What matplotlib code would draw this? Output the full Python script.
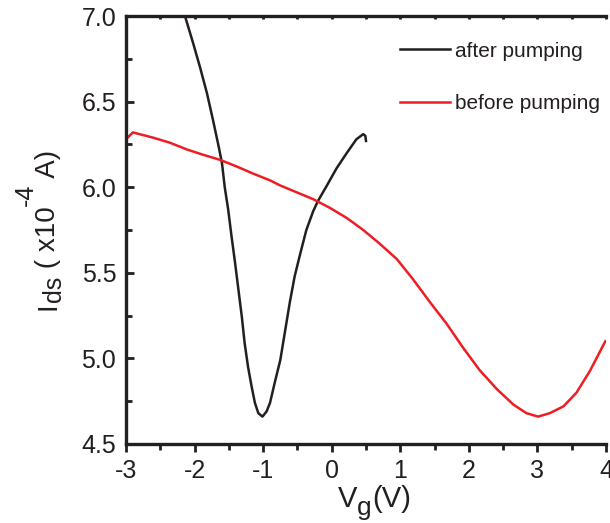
import matplotlib
matplotlib.use("Agg")
import matplotlib.pyplot as plt
from matplotlib.ticker import MultipleLocator, FormatStrFormatter
from matplotlib.transforms import IdentityTransform

plt.rcParams['font.family'] = ['Liberation Sans', 'DejaVu Sans']
plt.rcParams['axes.unicode_minus'] = False

# after pumping (black)
after_x = [-2.14, -2.02, -1.92, -1.82, -1.73, -1.65, -1.60, -1.56, -1.51, -1.46,
           -1.41, -1.36, -1.31, -1.27, -1.22, -1.17, -1.12, -1.07, -1.01, -0.95,
           -0.90, -0.83, -0.75, -0.68, -0.61, -0.54, -0.46, -0.37, -0.27, -0.20,
           -0.07, 0.07, 0.22, 0.36, 0.46, 0.49, 0.50]
after_y = [7.00, 6.84, 6.70, 6.55, 6.39, 6.24, 6.14, 6.00, 5.87, 5.71,
           5.56, 5.40, 5.24, 5.09, 4.95, 4.84, 4.74, 4.68, 4.66, 4.69,
           4.74, 4.86, 4.99, 5.16, 5.33, 5.48, 5.61, 5.75, 5.86, 5.92,
           6.01, 6.11, 6.20, 6.28, 6.31, 6.30, 6.27]

# before pumping (red)
before_x = [-3.00, -2.90, -2.61, -2.36, -2.11, -1.88, -1.63, -1.38, -1.15, -0.90,
            -0.75, -0.51, -0.27, -0.03, 0.22, 0.46, 0.70, 0.95, 1.19, 1.43,
            1.68, 1.92, 2.16, 2.41, 2.65, 2.84, 3.01, 3.18, 3.38, 3.57,
            3.77, 3.99]
before_y = [6.28, 6.32, 6.29, 6.26, 6.22, 6.19, 6.16, 6.12, 6.08, 6.04,
            6.01, 5.97, 5.93, 5.88, 5.82, 5.75, 5.67, 5.58, 5.46, 5.33,
            5.20, 5.06, 4.93, 4.82, 4.73, 4.68, 4.66, 4.68, 4.72, 4.80,
            4.93, 5.10]

TXT = '#231f20'
RED = '#ee1d23'

fig = plt.figure(figsize=(6.10, 5.23), dpi=100)
ax = fig.add_axes([126/610, 79/523, 480/610, 428/523])

ax.plot(after_x, after_y, color=TXT, lw=1.8, label='after pumping')
ax.plot(before_x, before_y, color=RED, lw=1.8, label='before pumping')

ax.set_xlim(-3, 4)
ax.set_ylim(4.5, 7.0)
ax.xaxis.set_major_locator(MultipleLocator(1))
ax.xaxis.set_minor_locator(MultipleLocator(0.5))
ax.yaxis.set_major_locator(MultipleLocator(0.5))
ax.yaxis.set_minor_locator(MultipleLocator(0.25))
ax.yaxis.set_major_formatter(FormatStrFormatter('%.1f'))

for s in ['left', 'bottom', 'top']:
    ax.spines[s].set_linewidth(2.4)
    ax.spines[s].set_color(TXT)
ax.spines['right'].set_visible(False)

ax.tick_params(axis='y', which='major', direction='in', length=6, width=2, color=TXT,
               labelsize=18, labelcolor=TXT, pad=7)
ax.tick_params(axis='y', which='minor', direction='in', length=4, width=2, color=TXT)
ax.tick_params(axis='x', which='major', direction='out', length=6, width=2, color=TXT,
               labelsize=18, labelcolor=TXT, pad=5)
ax.tick_params(axis='x', which='minor', direction='out', length=4, width=2, color=TXT)

sec = ax.secondary_xaxis('top')
sec.xaxis.set_major_locator(MultipleLocator(1))
sec.xaxis.set_minor_locator(MultipleLocator(0.5))
sec.tick_params(axis='x', which='both', direction='in', length=2.5, width=2, color=TXT,
                labeltop=False)
sec.spines['top'].set_visible(False)

leg = ax.legend(loc='upper left', bbox_to_anchor=(0.571, 0.940), frameon=False,
                fontsize=15, handlelength=2.4, handletextpad=0.25, labelspacing=1.6,
                borderpad=0, borderaxespad=0)
for t in leg.get_texts():
    t.set_color(TXT)

# axis labels composed of pieces (full-size sub/superscripts as in the reference)
renderer = fig.canvas.get_renderer()


def chain(pieces, x0, y0, rot):
    pos = 0.0
    for s, size, shift in pieces:
        if rot == 0:
            t = fig.text(x0 + pos, y0 + shift, s, fontsize=size, color=TXT,
                         transform=IdentityTransform(), ha='left', va='baseline')
            pos += t.get_window_extent(renderer).width
        else:
            t = fig.text(x0 - shift, y0 + pos, s, fontsize=size, color=TXT,
                         rotation=90, rotation_mode='anchor',
                         transform=IdentityTransform(), ha='left', va='baseline')
            pos += t.get_window_extent(renderer).height


chain([('V', 21, 0), ('g', 19, -8), ('(V)', 21, 0)], 338, 16, 0)
chain([('I', 20, 0), ('ds', 18, -6), (' ( x10', 20, 0), ('-4', 18, 22), (' A)', 20, 0)],
      55, 213, 90)

fig.savefig('out.png', dpi=100)
